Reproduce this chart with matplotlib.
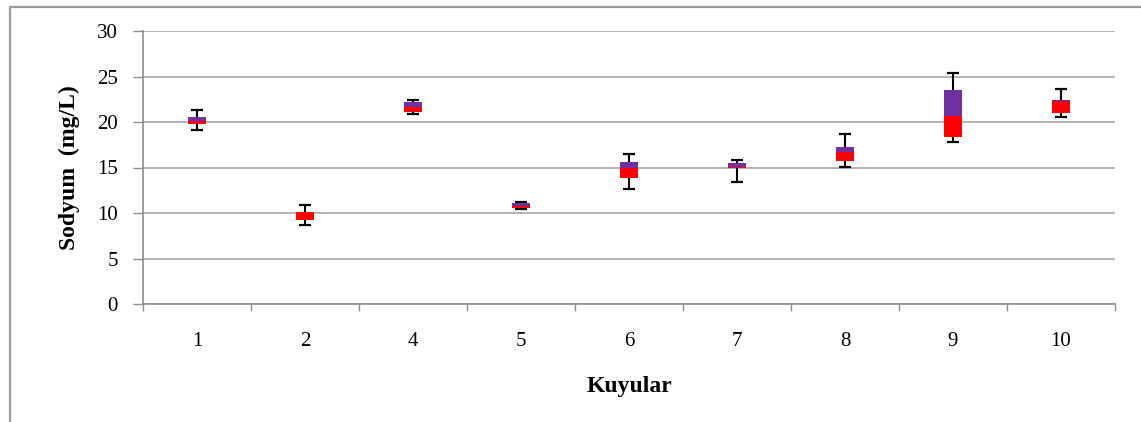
import matplotlib
matplotlib.use("Agg")
import matplotlib.pyplot as plt
from matplotlib.patches import Rectangle
import numpy as np

# Sodium box summaries per well (mg/L)
wells = ["1", "2", "4", "5", "6", "7", "8", "9", "10"]
minimum = [19.1, 8.7, 20.9, 10.4, 12.6, 13.4, 15.1, 17.8, 20.6]
q1 = [19.75, 9.2, 21.05, 10.6, 13.8, 14.95, 15.75, 18.4, 21.0]
median = [20.1, 10.1, 21.6, 10.8, 14.95, 15.05, 16.75, 20.65, 22.3]
q3 = [20.6, 10.15, 22.15, 11.1, 15.55, 15.45, 17.2, 23.5, 22.4]
maximum = [21.3, 10.9, 22.4, 11.25, 16.45, 15.85, 18.65, 25.4, 23.6]
yticks = [0, 5, 10, 15, 20, 25, 30]

RED = "#FF0000"
PURPLE = "#7030A0"
GRID = "#A6A6A6"
AXIS = "#8C8C8C"

plt.rcParams["font.family"] = ["Liberation Serif", "DejaVu Serif"]

W, H = 1141, 422
fig = plt.figure(figsize=(W / 100, H / 100), dpi=100)
fig.patch.set_facecolor("white")

# chart frame
fig.patches.append(Rectangle((10 / W, -0.1), 1.2, (H - 7) / H + 0.1,
                             transform=fig.transFigure, fill=False,
                             edgecolor="#9A9A9A", linewidth=1.6, zorder=0))

ax = fig.add_axes([143 / W, (H - 304) / H, (1115 - 143) / W, (304 - 31) / H])

x = np.arange(len(wells))
mn = np.array(minimum)
a = np.array(q1)
m = np.array(median)
b = np.array(q3)
mx = np.array(maximum)

width = 0.167
mid = (mn + mx) / 2
ax.errorbar(x, mid, yerr=[mid - mn, mx - mid], fmt="none", ecolor="black",
            elinewidth=1.5, capsize=4, capthick=1.6, zorder=3)
ax.bar(x, m - a, bottom=a, width=width, color=RED, linewidth=0, zorder=4)
ax.bar(x, b - m, bottom=m, width=width, color=PURPLE, linewidth=0, zorder=4)

ax.set_xlim(-0.5, len(wells) - 0.5)
ax.set_ylim(0, 30)
ax.set_yticks(yticks)
ax.set_yticklabels([str(t) for t in yticks], fontsize=15)
ax.yaxis.grid(True, color=GRID, linewidth=1.2, zorder=1)
ax.set_axisbelow(True)

ax.set_xticks(x)
ax.set_xticklabels(wells, fontsize=15)
ax.set_xticks(np.arange(-0.5, len(wells)), minor=True)
ax.tick_params(axis="x", which="major", length=0, pad=20)
ax.tick_params(axis="x", which="minor", length=5, color=AXIS, width=1)
ax.tick_params(axis="y", length=7, color=AXIS, width=1, pad=11)

for side in ["top", "right"]:
    ax.spines[side].set_visible(False)
for side in ["left", "bottom"]:
    ax.spines[side].set_color(AXIS)
    ax.spines[side].set_linewidth(1.2)

ax.set_xlabel("Kuyular", fontsize=17, fontweight="bold", labelpad=18)
ax.set_ylabel("Sodyum  (mg/L)", fontsize=17, fontweight="bold", labelpad=12)

fig.savefig("out.png", dpi=100, facecolor="white")
